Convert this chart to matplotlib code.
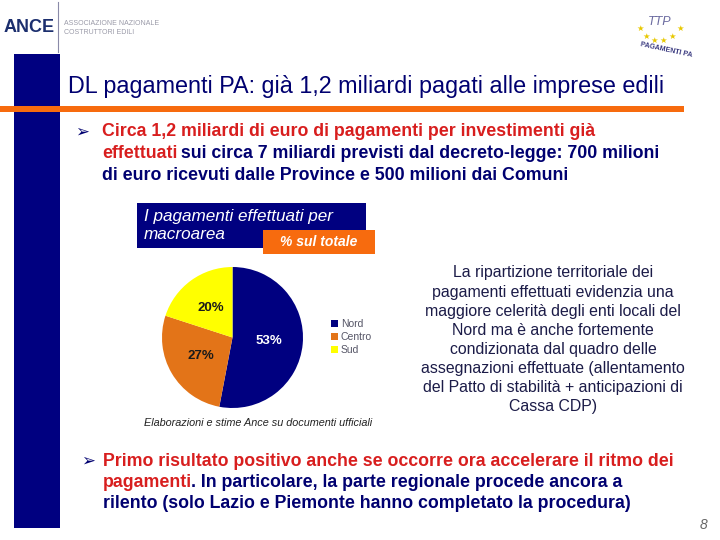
"""
ANCE slide: DL pagamenti PA - ripartizione per macroarea
"""

import matplotlib
matplotlib.use('Agg')
import matplotlib.pyplot as plt
from matplotlib.patches import Rectangle

plt.rcParams['font.family'] = ['Liberation Sans', 'DejaVu Sans']

# --- data ---
areas = ['Nord', 'Centro', 'Sud']
shares = [53, 27, 20]
area_colors = ['#000080', '#E37418', '#FFFF00']
label_colors = ['white', '#1a1a1a', '#1a1a1a']

title = 'DL pagamenti PA: già 1,2 miliardi pagati alle imprese edili'
box_title = ['I pagamenti effettuati per', 'macroarea']
box_sub = '% sul totale'
source = 'Elaborazioni e stime Ance su documenti ufficiali'
side_lines = [
    'La ripartizione territoriale dei',
    'pagamenti effettuati evidenzia una',
    'maggiore celerità degli enti locali del',
    'Nord ma è anche fortemente',
    'condizionata dal quadro delle',
    'assegnazioni effettuate (allentamento',
    'del Patto di stabilità + anticipazioni di',
    'Cassa CDP)',
]

RED = '#D81E1E'
NAVY = '#000070'

bullet1 = [
    [('Circa 1,2 miliardi di euro di pagamenti per investimenti già', RED)],
    [('effettuati', RED), (' sui circa 7 miliardi previsti dal decreto-legge: 700 milioni', NAVY)],
    [('di euro ricevuti dalle Province e 500 milioni dai Comuni', NAVY)],
]
bullet2 = [
    [('Primo risultato positivo anche se occorre ora accelerare il ritmo dei', RED)],
    [('pagamenti', RED), ('. In particolare, la parte regionale procede ancora a', NAVY)],
    [('rilento (solo Lazio e Piemonte hanno completato la procedura)', NAVY)],
]

W, H = 720, 540
fig = plt.figure(figsize=(W / 100, H / 100), dpi=100)
renderer = fig.canvas.get_renderer()


def fx(x):
    return x / W


def fy(y):
    return 1 - y / H


def rect(x0, y0, x1, y1, color):
    fig.patches.append(Rectangle((fx(x0), fy(y1)), fx(x1 - x0), (y1 - y0) / H,
                                 transform=fig.transFigure, color=color, lw=0))


def rich_line(x, y, parts, **kw):
    for txt, col in parts:
        t = fig.text(fx(x), fy(y), txt, color=col, va='center', ha='left', **kw)
        bb = t.get_window_extent(renderer=renderer)
        x += bb.width - 1.5


# --- header / decorations ---
rect(14, 54, 60, 528, '#000080')
rect(0, 106, 684, 112, '#F76B0E')
fig.add_artist(plt.Line2D([fx(58), fx(58)], [fy(2), fy(52)], transform=fig.transFigure,
                          color='#8a8aa8', lw=0.8))
fig.text(fx(4), fy(28), 'ANCE', color='#1c2f6e', fontsize=13, fontweight='bold', va='center')
fig.text(fx(64), fy(28), 'ASSOCIAZIONE NAZIONALE\nCOSTRUTTORI EDILI', color='#9a9aa8',
         fontsize=5, va='center', linespacing=1.3)

# pagamenti PA logo (rough)
star_x = [640, 646, 654, 663, 672, 680]
star_y = [28, 36, 40, 40, 36, 28]
for sx, sy in zip(star_x, star_y):
    fig.text(fx(sx), fy(sy), '★', color='#E8C800', fontsize=6, ha='center', va='center',
             family='DejaVu Sans')
fig.text(fx(660), fy(22), 'TTP', color='#6b6ba0', fontsize=9, ha='center', va='center',
         fontstyle='italic')
fig.text(fx(666), fy(50), 'PAGAMENTI PA', color='#3a3a80', fontsize=5, ha='center',
         va='center', rotation=-12, fontweight='bold')

fig.text(fx(68), fy(86), title, color=NAVY, fontsize=16.8, va='center', ha='left')

# --- bullets ---
fig.text(fx(75), fy(132), '➢', color=NAVY, fontsize=12, va='center', family='DejaVu Sans')
for i, line in enumerate(bullet1):
    rich_line(102, 132 + i * 21.5, line, fontsize=12.8, fontweight='bold')

fig.text(fx(81), fy(461), '➢', color=NAVY, fontsize=12, va='center', family='DejaVu Sans')
for i, line in enumerate(bullet2):
    rich_line(103, 461 + i * 21.5, line, fontsize=12.8, fontweight='bold')

# --- chart header boxes ---
rect(137, 203, 366, 248, '#000080')
for i, line in enumerate(box_title):
    fig.text(fx(144), fy(216 + i * 19), line, color='white', fontsize=12.3,
             fontstyle='italic', va='center', ha='left')
rect(263, 230, 375, 254, '#F76B0E')
fig.text(fx(319), fy(242), box_sub, color='white', fontsize=10, fontstyle='italic',
         fontweight='bold', va='center', ha='center')

# --- pie ---
ax = fig.add_axes([fx(162), fy(408), fx(141), 141 / H])
wedges, texts, autotexts = ax.pie(shares, colors=area_colors, startangle=90,
                                  counterclock=False, autopct=lambda p: f'{p:.0f}%',
                                  pctdistance=0.52,
                                  textprops=dict(fontsize=9.5, fontweight='bold'))
for at, c in zip(autotexts, label_colors):
    at.set_color(c)
ax.set_xlim(-1, 1)
ax.set_ylim(-1, 1)
ax.set_aspect('equal')

fig.legend(wedges, areas, loc='center left',
           bbox_to_anchor=(fx(322), fy(337)), frameon=False, fontsize=7.5,
           handlelength=0.6, handleheight=0.6, handletextpad=0.3, labelspacing=0.3,
           labelcolor='#555566')

fig.text(fx(258), fy(423), source, color='#222222', fontsize=7.8, fontstyle='italic',
         ha='center', va='center')

# --- side comment ---
for i, line in enumerate(side_lines):
    fig.text(fx(553), fy(273 + i * 19.1), line, color='#1c1c48', fontsize=11.4,
             ha='center', va='center')

fig.text(fx(704), fy(525), '8', color='#666666', fontsize=10, fontstyle='italic',
         ha='center', va='center')

fig.savefig('out.png', dpi=100)
